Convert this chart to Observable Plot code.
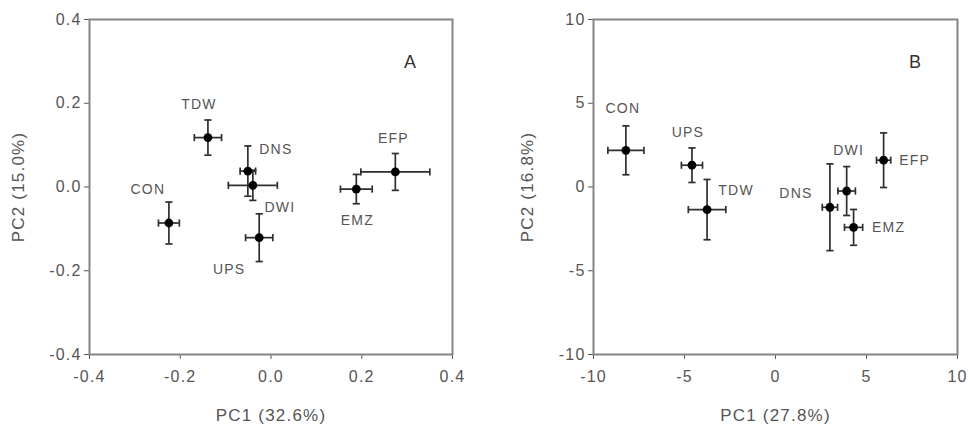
<!DOCTYPE html>
<html>
<head>
<meta charset="utf-8">
<script src="https://cdn.jsdelivr.net/npm/d3@7"></script>
<script src="https://cdn.jsdelivr.net/npm/@observablehq/plot@0.6"></script>
<style>
  html, body { margin: 0; padding: 0; background: #fff; overflow: hidden; }
  #wrap { display: flex; width: 968px; height: 426px; }
  #wrap svg { display: block; }
</style>
</head>
<body>
<div id="wrap"></div>
<script>
// ---------- DATA ----------
const categories = ["CON", "TDW", "DNS", "DWI", "UPS", "EMZ", "EFP"];

// Panel A
const pc1A    = [-0.225, -0.139, -0.051, -0.040, -0.026, 0.188, 0.274];
const pc2A    = [-0.086,  0.118,  0.038,  0.004, -0.121, -0.005, 0.036];
const pc1ErrA = [ 0.023,  0.030,  0.017,  0.054,  0.030, 0.035, 0.076];
const pc2ErrA = [ 0.050,  0.042,  0.060,  0.036,  0.057, 0.035, 0.044];
const ticksA  = [-0.4, -0.2, 0, 0.2, 0.4];
const xTitleA = "PC1 (32.6%)";
const yTitleA = "PC2 (15.0%)";
const letterA = "A";

// Panel B
const pc1B    = [-8.22, -3.76,  2.99,  3.91, -4.59,  4.29, 5.94];
const pc2B    = [ 2.19, -1.35, -1.21, -0.24,  1.30, -2.41, 1.60];
const pc1ErrB = [ 0.99,  1.03,  0.42,  0.48,  0.58,  0.50, 0.39];
const pc2ErrB = [ 1.46,  1.80,  2.59,  1.46,  1.03,  1.07, 1.63];
const ticksB  = [-10, -5, 0, 5, 10];
const xTitleB = "PC1 (27.8%)";
const yTitleB = "PC2 (16.8%)";
const letterB = "B";

// ---------- LAYOUT (pixels) ----------
const labelOffsetA = {
  CON: [-21, -33], TDW: [-9, -33], DNS: [28, -22], DWI: [27, 22],
  UPS: [-30, 32], EMZ: [1, 31], EFP: [-2, -33]
};
const labelOffsetB = {
  CON: [-3, -42], TDW: [29, -19], DNS: [-34, -14], DWI: [2, -41],
  UPS: [-4, -33], EMZ: [35, 0], EFP: [31, 0]
};

const capH = { draw(ctx, size) { const h = Math.sqrt(size / Math.PI); ctx.moveTo(-h, 0); ctx.lineTo(h, 0); } };
const capV = { draw(ctx, size) { const h = Math.sqrt(size / Math.PI); ctx.moveTo(0, -h); ctx.lineTo(0, h); } };

const barColor = "#2e2e2e";
const textColor = "#555";
const frameColor = "#858585";

function panel({xs, ys, xe, ye, ticks, fmt, xTitle, yTitle, letter, offsets, marginLeft, marginRight, yTitleDx}) {
  const rows = categories.map((c, i) => ({name: c, x: xs[i], y: ys[i], xe: xe[i], ye: ye[i]}));
  const domain = [ticks[0], ticks[ticks.length - 1]];
  const capsY = rows.flatMap(d => [{x: d.x, y: d.y + d.ye}, {x: d.x, y: d.y - d.ye}]);
  const capsX = rows.flatMap(d => [{x: d.x + d.xe, y: d.y}, {x: d.x - d.xe, y: d.y}]);
  return Plot.plot({
    width: 484,
    height: 426,
    marginLeft, marginRight,
    marginTop: 19,
    marginBottom: 72,
    style: {fontFamily: "'Liberation Sans', Arial, sans-serif", background: "#fff", color: textColor, letterSpacing: "1.2px"},
    x: {domain, inset: 0},
    y: {domain, inset: 0},
    marks: [
      Plot.axisX({ticks, tickFormat: fmt, tickSize: 5, tickPadding: 11, fontSize: 16, color: textColor, label: null}),
      Plot.axisY({ticks, tickFormat: fmt, tickSize: 5, tickPadding: 3, fontSize: 16, color: textColor, label: null}),
      Plot.frame({stroke: frameColor, strokeWidth: 2}),
      Plot.ruleX(rows, {x: "x", y1: d => d.y - d.ye, y2: d => d.y + d.ye, stroke: barColor, strokeWidth: 1.7}),
      Plot.ruleY(rows, {y: "y", x1: d => d.x - d.xe, x2: d => d.x + d.xe, stroke: barColor, strokeWidth: 1.7}),
      Plot.dot(capsY, {x: "x", y: "y", symbol: capH, r: 3.6, fill: "none", stroke: barColor, strokeWidth: 1.7}),
      Plot.dot(capsX, {x: "x", y: "y", symbol: capV, r: 3.6, fill: "none", stroke: barColor, strokeWidth: 1.7}),
      Plot.dot(rows, {x: "x", y: "y", r: 4.4, fill: "#000"}),
      ...rows.map(d => Plot.text([d], {x: "x", y: "y", text: "name", dx: offsets[d.name][0], dy: offsets[d.name][1], fontSize: 14, fill: textColor})),
      Plot.text([letter], {frameAnchor: "top-right", textAnchor: "middle", lineAnchor: "middle", dx: -42, dy: 43, fontSize: 18, fill: "#333"}),
      Plot.text([xTitle], {frameAnchor: "bottom", lineAnchor: "middle", dy: 61, fontSize: 17, fill: textColor}),
      Plot.text([yTitle], {frameAnchor: "left", textAnchor: "middle", lineAnchor: "middle", rotate: -90, dx: yTitleDx, fontSize: 17, fill: textColor})
    ]
  });
}

const wrap = document.getElementById("wrap");
wrap.append(panel({
  xs: pc1A, ys: pc2A, xe: pc1ErrA, ye: pc2ErrA, ticks: ticksA, fmt: d => d.toFixed(1),
  xTitle: xTitleA, yTitle: yTitleA, letter: letterA, offsets: labelOffsetA,
  marginLeft: 89, marginRight: 32, yTitleDx: -71
}));
wrap.append(panel({
  xs: pc1B, ys: pc2B, xe: pc1ErrB, ye: pc2ErrB, ticks: ticksB, fmt: d => String(d),
  xTitle: xTitleB, yTitle: yTitleB, letter: letterB, offsets: labelOffsetB,
  marginLeft: 109, marginRight: 11, yTitleDx: -66
}));
</script>
</body>
</html>
